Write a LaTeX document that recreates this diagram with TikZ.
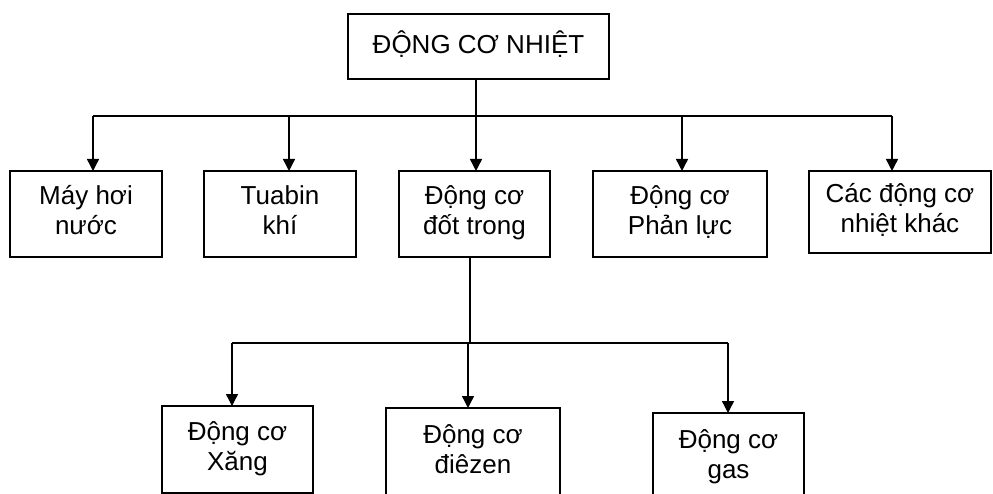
\documentclass[tikz,border=0pt]{standalone}
\usepackage{fontspec}
\setmainfont{Liberation Sans}
\usetikzlibrary{arrows.meta}
\begin{document}
\begin{tikzpicture}[x=1pt,y=-1pt,
  box/.style={draw=black, line width=1.4pt, inner sep=0pt, outer sep=0pt,
    align=center, font=\fontsize{26}{30}\selectfont, text=black},
  conn/.style={draw=black, line width=1.4pt},
  arr/.style={conn, -{Triangle[width=12pt,length=12pt]}}]
\useasboundingbox (0,0) rectangle (993,494);
\clip (0,0) rectangle (993,494);
\fill[white] (0,0) rectangle (993,494);

% top box
\node[box, minimum width=261pt, minimum height=65pt] (top) at (478.5,46.5) {\strut ĐỘNG CƠ NHIỆT};

% first row
\node[box, minimum width=152pt, minimum height=86pt] (b1) at (86,214) {\strut Máy hơi\\\strut nước};
\node[box, minimum width=152pt, minimum height=86pt] (b2) at (280,214) {\strut Tuabin\\\strut khí};
\node[box, minimum width=151pt, minimum height=86pt] (b3) at (474.5,214) {\strut Động cơ\\\strut đốt trong};
\node[box, minimum width=174pt, minimum height=86pt] (b4) at (680,214) {\strut Động cơ\\\strut Phản lực};
\node[box, minimum width=182pt, minimum height=82pt] (b5) at (900,212) {\strut Các động cơ\\\strut nhiệt khác};

% second row
\node[box, minimum width=151pt, minimum height=87pt] (c1) at (237.5,449.5) {\strut Động cơ\\\strut Xăng};
\node[box, minimum width=174pt, minimum height=88pt] (c2) at (473,452) {\strut Động cơ\\\strut điêzen};
\node[box, minimum width=151pt, minimum height=88pt] (c3) at (728.5,457) {\strut Động cơ\\\strut gas};

% upper bus
\coordinate (t1) at (93,116);
\coordinate (t2) at (289,116);
\coordinate (t3) at (476,116);
\coordinate (t4) at (682,116);
\coordinate (t5) at (892,116);
\draw[conn] (t1) -- (t5);
\draw[conn] (t3 |- top.south) -- (t3);
\draw[arr] (t1) -- (t1 |- b1.north);
\draw[arr] (t2) -- (t2 |- b2.north);
\draw[arr] (t3) -- (t3 |- b3.north);
\draw[arr] (t4) -- (t4 |- b4.north);
\draw[arr] (t5) -- (t5 |- b5.north);

% lower bus
\coordinate (s0) at (470,343);
\coordinate (s1) at (232,343);
\coordinate (s2) at (468,343);
\coordinate (s3) at (728,343);
\draw[conn] (s0 |- b3.south) -- (s0);
\draw[conn] (s1) -- (s3);
\draw[arr] (s1) -- (s1 |- c1.north);
\draw[arr] (s2) -- (s2 |- c2.north);
\draw[arr] (s3) -- (s3 |- c3.north);
\end{tikzpicture}
\end{document}
